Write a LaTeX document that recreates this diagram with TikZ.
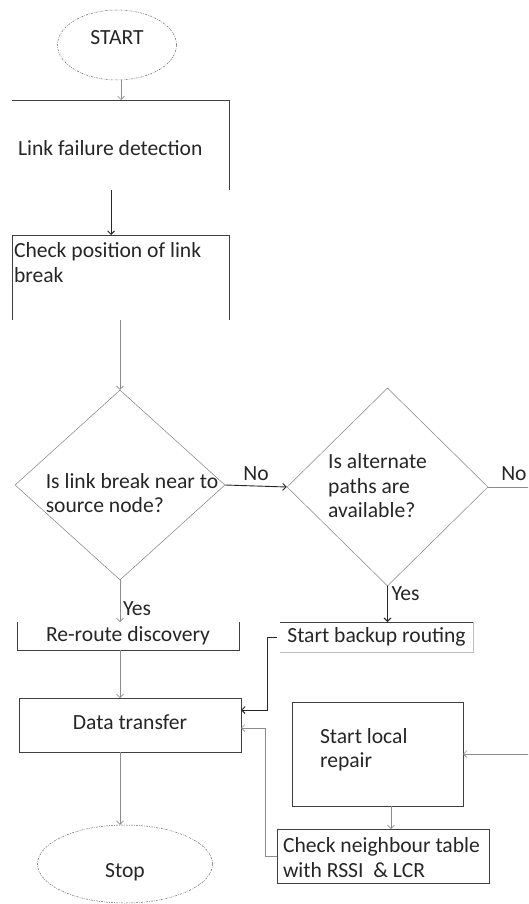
\documentclass[tikz,border=0pt]{standalone}
\usepackage{fontspec}
\setmainfont{Carlito}
\usetikzlibrary{shapes.geometric,arrows.meta}
\begin{document}
\begin{tikzpicture}[x=1pt,y=-1pt,
  font=\fontsize{21.6}{24.5}\selectfont,
  txt/.style={text=black!85, inner sep=0pt, outer sep=0pt},
  boxnode/.style={rectangle, inner sep=0pt, outer sep=0pt, text=black!85},
  edgeline/.style={draw=black!75, line width=0.8pt},
  grayarrow/.style={draw=black!45, line width=0.6pt, -{Straight Barb[length=3.5pt,width=7pt]}},
  darkarrow/.style={draw=black!85, line width=0.9pt, -{Straight Barb[length=3.5pt,width=7pt]}},
  ovalnode/.style={ellipse, draw=black!60, line width=0.5pt, dash pattern=on 2pt off 1.2pt on 0.6pt off 1.2pt, inner sep=0pt, text=black!85},
  dia/.style={diamond, draw=black!50, line width=0.5pt, inner sep=0pt},
  lbl/.style={txt}
]
\useasboundingbox (0,0) rectangle (528,904);
\clip (0,0) rectangle (528,904);

% terminals
\node[ovalnode, minimum width=119pt, minimum height=70pt] (start) at (117,45) {\raisebox{0pt}[0pt][0pt]{START}};
\node[ovalnode, minimum width=175pt, minimum height=78pt] (stop) at (125,864) {\raisebox{-13pt}[0pt][0pt]{Stop}};

% process boxes
\node[boxnode] (lfd) at (120.5,145) {\hspace{6pt}\parbox[c][90pt][c]{211pt}{\raggedright\vspace{6pt}Link failure detection}};
\node[boxnode] (cpl) at (120.5,277.5) {\hspace{2pt}\parbox[c][85pt][t]{215pt}{\raggedright\vspace{8pt}Check position of link\\break}};
\node[boxnode, minimum width=222pt, minimum height=28pt] (rrd) at (128,636) {Re-route discovery};
\node[boxnode, minimum width=193pt, minimum height=30pt] (sbr) at (376.5,637) {Start backup routing};
\node[boxnode, minimum width=222pt, minimum height=54pt] (dt) at (130,725) {\raisebox{6pt}{Data transfer}};
\node[boxnode] (slr) at (377.5,754) {\hspace{28pt}\parbox[c][104pt][t]{143pt}{\raggedright\vspace{26pt}Start local\\repair}};
\node[boxnode] (cnt) at (383,856) {\hspace{6pt}\parbox[c][54pt][c]{206pt}{\raggedright\vspace{3pt}Check neighbour table\\with RSSI\ \ \& LCR}};

% decisions
\node[dia, minimum width=210pt, minimum height=190pt] (d1) at (120,485) {};
\node[txt, align=left] (d1t) at (132,493) {Is link break near to\\source node?};
\node[dia, minimum width=201pt, minimum height=198pt] (d2) at (387.5,487) {};
\node[txt, align=left] (d2t) at (377.5,486) {Is alternate\\paths are\\available?};

% box edges
\draw[edgeline] (lfd.north west) -- (lfd.north east) -- (lfd.south east);
\draw[edgeline] (cpl.south west) -- (cpl.north west) -- (cpl.north east) -- (cpl.south east);
\draw[edgeline] (rrd.north west) -- (rrd.south west) -- (rrd.south east) -- (rrd.north east);
\draw[edgeline] (sbr.north west) -- (sbr.north east);
\draw[draw=black!25, line width=0.8pt] (sbr.south west) -- (sbr.south east) -- (sbr.north east);
\draw[edgeline] (dt.south west) rectangle (dt.north east);
\draw[edgeline] (slr.south west) rectangle (slr.north east);
\draw[edgeline] (cnt.south west) rectangle (cnt.north east);

% connectors
\draw[grayarrow] ([xshift=4pt]start.south) -- ([xshift=4pt]start.south |- lfd.north);
\draw[darkarrow] ([xshift=-9.5pt]lfd.south) -- ([xshift=-9.5pt]lfd.south |- cpl.north);
\draw[grayarrow] (d1.north |- cpl.south) -- (d1.north);
\draw[darkarrow] (d1.east) -- node[lbl, above=5pt] (no1) {No} (d2.west);
\draw[grayarrow] (d2.east) -- ++(70,0) coordinate (rt) |- (slr.east);
\node[lbl, anchor=south west] (no2) at ([xshift=13pt,yshift=6pt]d2.east) {No};
\draw[grayarrow] (d1.south) -- node[lbl, pos=0.68, right=3pt] (yes1) {Yes} (d1.south |- rrd.north);
\draw[darkarrow] (d2.south) -- node[lbl, pos=0.2, right=4pt] (yes2) {Yes} (d2.south |- sbr.north);
\draw[grayarrow] (d1.south |- rrd.south) -- (d1.south |- dt.north);
\draw[darkarrow] ([xshift=-3pt]sbr.west) -- ++(-10,0) |- ([yshift=15pt]dt.east);
\draw[grayarrow] (d1.south |- dt.south) -- (d1.south |- stop.north);
\draw[grayarrow] ([xshift=13.5pt]slr.south) -- ([xshift=13.5pt]slr.south |- cnt.north);
\draw[grayarrow] (cnt.west) -- ++(-12,0) |- ([yshift=-3pt]dt.east);
\end{tikzpicture}
\end{document}
